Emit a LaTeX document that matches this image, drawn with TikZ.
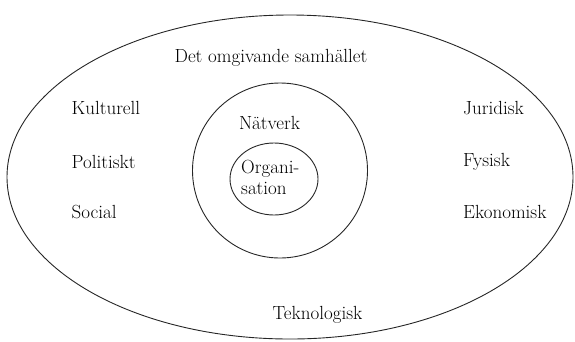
\documentclass[tikz,border=0pt]{standalone}
\usetikzlibrary{shapes.geometric}
\begin{document}
\begin{tikzpicture}[x=1pt,y=-1pt,
  ring/.style={draw=black!85,line width=0.9pt,ellipse,inner sep=0pt},
  lbl/.style={font=\fontsize{19}{21}\selectfont,inner sep=0pt,text=black}]
\useasboundingbox (0,0) rectangle (575,341);
\node[ring,minimum width=566pt,minimum height=324pt] (outer) at (290,177) {};
\node[ring,minimum width=175pt,minimum height=175pt] (mid) at (280,170.5) {};
\node[ring,minimum width=88pt,minimum height=72pt] (inner) at (274,179) {};
\node[lbl] (top) at (271,58) {Det omgivande samhället};
\node[lbl,anchor=west] (kult) at (71.5,108) {Kulturell};
\node[lbl,anchor=west] (pol) at (71.5,162) {Politiskt};
\node[lbl,anchor=west] (soc) at (71.5,212) {Social};
\node[lbl,anchor=west] (jur) at (463,108) {Juridisk};
\node[lbl,anchor=west] (fys) at (463,162) {Fysisk};
\node[lbl,anchor=west] (eko) at (463,212) {Ekonomisk};
\node[lbl] (nat) at (269.5,123) {Nätverk};
\node[lbl,anchor=west,align=left] (org) at (241,177.5) {Organi-\\sation};
\node[lbl] (tek) at (317.5,315) {Teknologisk};
\end{tikzpicture}
\end{document}
